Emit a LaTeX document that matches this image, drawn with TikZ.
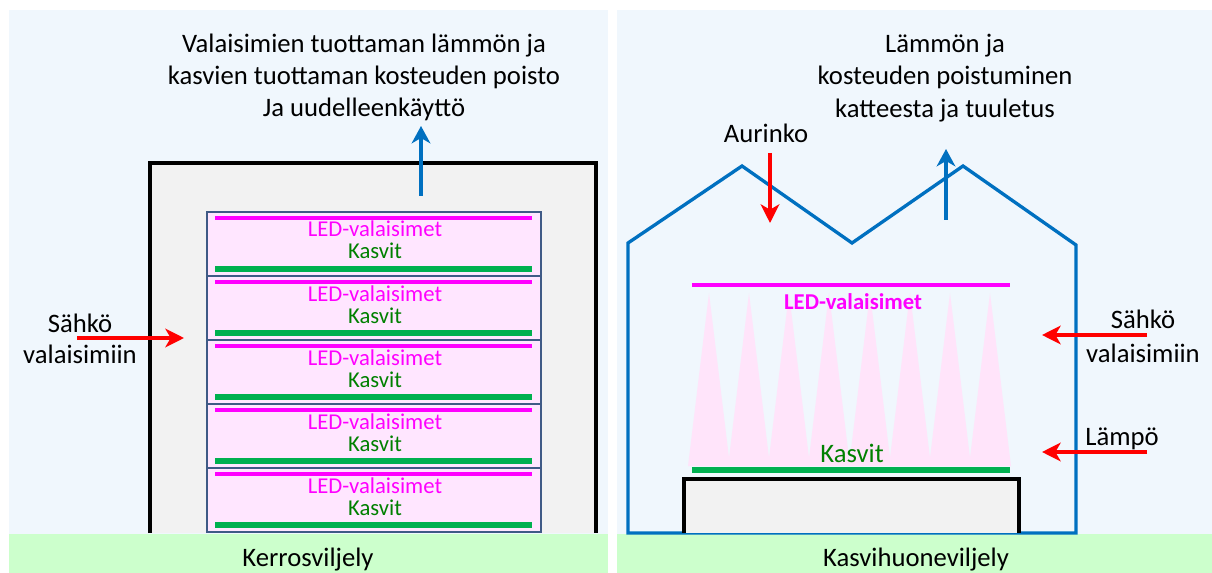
\documentclass[tikz,border=0pt]{standalone}
\usepackage{fontspec}
\setmainfont{Carlito}
\usetikzlibrary{arrows.meta}

\definecolor{panelbg}{HTML}{F0F7FD}
\definecolor{basebar}{HTML}{CCFFCC}
\definecolor{roomfill}{HTML}{F2F2F2}
\definecolor{tierfill}{HTML}{FFE6FF}
\definecolor{tierline}{HTML}{3F5A86}
\definecolor{ledmag}{HTML}{FF00FF}
\definecolor{plantgreen}{HTML}{00B050}
\definecolor{planttext}{HTML}{008000}
\definecolor{heatblue}{HTML}{0070C0}
\definecolor{powerred}{HTML}{FF0000}
\definecolor{conefill}{HTML}{FFE4FA}

\begin{document}
\begin{tikzpicture}[x=0.75pt,y=-0.75pt,
  lbl/.style={anchor=base, inner sep=0pt, font=\fontsize{20pt}{24pt}\selectfont},
  tiertext/.style={anchor=base, inner sep=0pt, font=\fontsize{17pt}{20pt}\selectfont},
  powerarrow/.style={draw=powerred, line width=3pt, -{Stealth[length=14pt,width=14pt,inset=4pt]}},
  heatarrow/.style={draw=heatblue, line width=2.6pt, -{Stealth[length=13pt,width=14pt,inset=4pt]}},
  ledbar/.style={draw=ledmag, line width=3.5pt},
  plantbar/.style={draw=plantgreen, line width=3.8pt},
  tierbox/.style={draw=tierline, fill=tierfill, line width=2.2pt}
]
\useasboundingbox (0,0) rectangle (1212,573);

% panel backgrounds and base bars
\fill[panelbg] (9,10) rectangle (608,534);
\fill[panelbg] (617,10) rectangle (1212,534);
\fill[basebar] (9,534) rectangle (608,573);
\fill[basebar] (617,534) rectangle (1212,573);

% ---------- vertical farming ----------
\draw[black, fill=roomfill, line width=2.4pt] (150,533) -- (150,163) -- (596,163) -- (596,533);

\foreach \t [count=\k] in {212,276,340,404,468}{
  \draw[tierbox] (207,\t) rectangle (541,\t+64);
  \draw[ledbar] (215,\t+6) -- (532,\t+6);
  \draw[plantbar] (215,\t+57) -- (532,\t+57);
  \node[tiertext, text=ledmag] (led\k) at (375,\t+25) {LED-valaisimet};
  \node[tiertext, text=planttext] (kasvit\k) at (375,\t+47) {Kasvit};
}

\node[lbl] (t1a) at (364,53) {Valaisimien tuottaman lämmön ja};
\node[lbl] (t1b) at (364,85) {kasvien tuottaman kosteuden poisto};
\node[lbl] (t1c) at (364,117) {Ja uudelleenkäyttö};
\coordinate (exhaustL) at (421,196);
\draw[heatarrow] (exhaustL) -- (421,126);

\node[lbl] (powerLa) at (80,332) {Sähkö};
\node[lbl] (powerLb) at (80,363) {valaisimiin};
\coordinate (powerLin) at (77,338);
\draw[powerarrow] (powerLin) -- (184,338);

\node[lbl] (capL) at (308,566) {Kerrosviljely};

% ---------- greenhouse ----------
\foreach \cx in {709,749,789,829,870,910,950,990}{
  \fill[conefill] (\cx,293) -- (\cx+21,466) -- (\cx-21,466) -- cycle;
}
\draw[heatblue, line width=2.5pt, line join=miter]
  (628,533) -- (628,243) -- (742,166) -- (852,243) -- (963,166) -- (1076,245) -- (1076,533) -- cycle;
\draw[black, fill=roomfill, line width=2.4pt] (684,533) -- (684,479) -- (1019,479) -- (1019,533);

\draw[ledbar] (692,285) -- (1010,285);
\draw[plantbar] (692,470) -- (1010,470);
\node[anchor=base, inner sep=0pt, text=ledmag, font=\fontsize{17pt}{20pt}\selectfont\bfseries] (ledR) at (853,310) {LED-valaisimet};
\node[anchor=base, inner sep=0pt, text=planttext, font=\fontsize{20pt}{24pt}\selectfont] (kasvitR) at (852,462) {Kasvit};

\node[lbl] (t2a) at (945,53) {Lämmön ja};
\node[lbl] (t2b) at (945,85) {kosteuden poistuminen};
\node[lbl] (t2c) at (945,118) {katteesta ja tuuletus};
\coordinate (exhaustR) at (946,220);
\draw[heatarrow] (exhaustR) -- (946,149);

\node[lbl] (sun) at (766,143) {Aurinko};
\coordinate (sunin) at (770,153);
\draw[powerarrow] (sunin) -- (770,223);

\node[lbl] (powerRa) at (1143,329) {Sähkö};
\node[lbl] (powerRb) at (1143,362) {valaisimiin};
\coordinate (powerRin) at (1147,335);
\draw[powerarrow] (powerRin) -- (1042,335);

\node[lbl] (heatR) at (1122,445) {Lämpö};
\coordinate (heatRin) at (1147,452);
\draw[powerarrow] (heatRin) -- (1042,452);

\node[lbl] (capR) at (916,566) {Kasvihuoneviljely};
\end{tikzpicture}
\end{document}
